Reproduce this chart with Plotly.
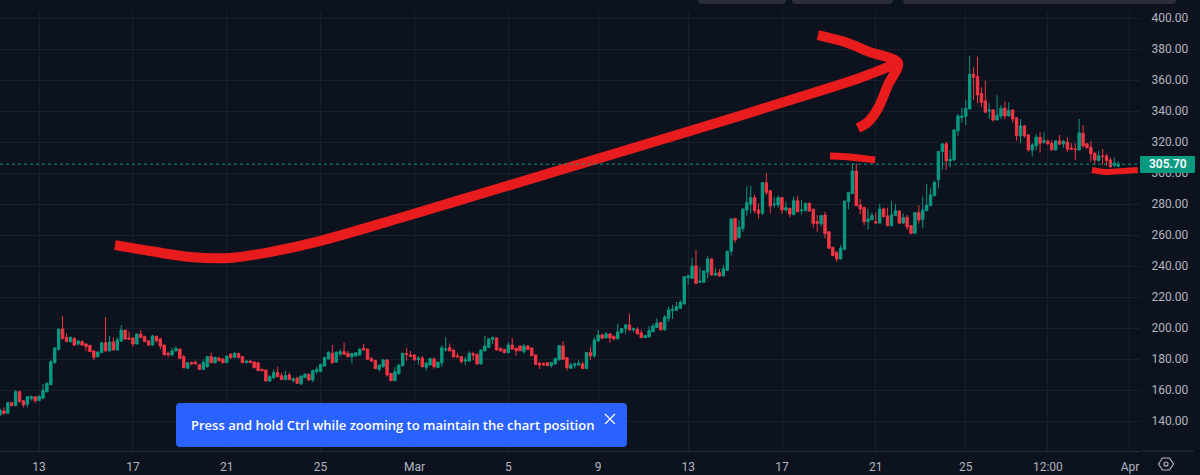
import plotly.graph_objects as go

# 4h candles
opens = [
    143.9, 146.5, 145, 151.8, 149.9, 158.9, 153, 150.8, 154.4, 155.7,
    153.1, 154.8, 158.9, 163.4, 177.6, 186.2, 199.3, 194, 191.2, 193.3,
    189.7, 191.2, 189.7, 188.8, 185.2, 181.5, 184.1, 190.5, 185.2, 191,
    185.8, 191.6, 198.5, 193.5, 193.5, 189.7, 196.1, 194.4, 191.6, 189,
    194.6, 192.9, 189, 183.6, 182.6, 185.2, 186.4, 181.5, 174, 177.8,
    178, 176.3, 173.3, 175, 181.5, 177.6, 180.6, 180, 177.6, 183.2,
    181, 183.6, 181.5, 177.8, 178.7, 178, 177.6, 173.3, 172.9, 165.8,
    168, 171.2, 169.2, 166.7, 169.7, 166.2, 167.7, 163.9, 168, 170.1,
    166.4, 171.8, 171.8, 175.5, 180, 183.6, 178, 183.2, 184.7, 183.6,
    181.5, 182, 182.6, 186.9, 186.4, 180.4, 179.1, 173.3, 175, 179.4,
    170.7, 166, 170.7, 175.7, 183.6, 182.6, 182.6, 179.6, 180.6, 174.6,
    176.1, 180, 174.6, 177.6, 185.8, 187.3, 185.8, 182.1, 181.5, 178.7,
    178.7, 183.4, 183, 176.8, 185.2, 187.5, 192.7, 193.5, 186.9, 186.2,
    184.1, 189, 186.9, 188.4, 184.7, 188.4, 187.1, 182.6, 177.2, 177.2,
    177.6, 175.7, 176.8, 179.4, 188.4, 180.9, 174, 176, 176.2, 176.8,
    173.8, 184.1, 182, 191.6, 195.5, 193.6, 196.2, 194.5, 193, 197,
    199.8, 202, 198.8, 199.2, 196.8, 193.8, 194.2, 197.5, 200.3, 203.5,
    198.8, 206.3, 211.2, 211.4, 212.7, 215.5, 232.5, 232, 240, 229.5,
    229.5, 236, 244.5, 234.2, 235.7, 233.6, 237.2, 249.5, 270.7, 258.3,
    264.3, 276.1, 279.8, 284.1, 276.1, 274, 293.8, 288.6, 279.6, 279.4,
    284.1, 276.1, 277.2, 273.3, 282.1, 275.7, 275.7, 280.4, 276.6, 268.6,
    267.1, 272.9, 262.1, 252, 248.6, 244.5, 250.8, 281.5, 286.7, 301.3,
    279.4, 277.8, 268.6, 269.9, 268.6, 267.7, 276.8, 272.3, 266, 272.5,
    275.5, 267.7, 271.4, 266, 261.1, 274.4, 270.1, 275.7, 278.9, 285.4,
    295.5, 313.8, 318.8, 307.8, 308.4, 327.2, 335.8, 336.4, 341.3, 363.7,
    362.2, 351.4, 346.5, 340, 340.7, 334.2, 336.8, 341.8, 336.8, 340.7,
    335.5, 323.9, 330.4, 324.6, 314.9, 317.5, 323, 319.8, 320.5, 319.2,
    314.9, 320.7, 318.8, 320, 316.2, 315.5, 314.9, 325.6, 318.8, 316.6,
    312.8, 308, 311, 311, 308.4, 305, 304.4,
]
highs = [
    148, 148.8, 152.5, 152.2, 160, 159.5, 153.5, 156, 156.5, 156,
    156.8, 163.9, 165, 179.3, 187.5, 199.5, 207.7, 196.5, 194.5, 194,
    192.2, 192, 190, 189.2, 185.5, 185, 191, 207.1, 194.8, 194,
    194, 201.9, 199, 197.8, 194, 196.5, 198.7, 195, 192.2, 195.5,
    195, 193.8, 189.2, 184.7, 187.3, 188, 186.8, 182.6, 178, 178.5,
    178.9, 176.5, 179.8, 182, 184.1, 181.5, 181.2, 180.3, 182.2, 183.6,
    184.7, 184, 182, 179.3, 179.2, 178.5, 177.8, 173.8, 173.2, 169.7,
    173.3, 175, 171.2, 172.5, 171.4, 168.2, 168.6, 169.5, 171, 170.7,
    173, 175, 177, 181.5, 185, 189, 185, 186.2, 190.7, 185.2,
    184, 184.3, 187, 189.7, 186.7, 181, 179.5, 176.5, 180, 179.8,
    171, 175, 176.5, 184.3, 187.3, 185.2, 183, 181.9, 181.9, 178.3,
    180.8, 180.9, 178.5, 189, 194, 190, 186, 184, 181.9, 181.5,
    185, 184.7, 183.6, 186.2, 194.8, 193.5, 194.4, 194, 187.3, 186.5,
    191, 193.5, 187.3, 188.7, 189.7, 189, 187.3, 183, 178, 177.8,
    178, 178, 181, 189, 191.6, 181.3, 177.7, 177.7, 179.4, 178.3,
    184.5, 188, 194, 198.8, 196.6, 197.5, 196.6, 195.5, 202.6, 200,
    202.6, 209.1, 200.3, 200.5, 198.8, 195.5, 201.3, 202.6, 206.3, 204,
    208.4, 213.8, 214.9, 216.8, 218.1, 233.5, 234.4, 245.2, 250.4, 239.2,
    237.2, 246.5, 245, 238.5, 238.1, 240.7, 249.9, 270.7, 271, 269.7,
    277, 291.2, 291.6, 286.2, 280.4, 294, 300, 289, 284.7, 285.4,
    284.5, 281.5, 277.6, 284.7, 285.2, 282.6, 281, 281, 277, 272.9,
    272.9, 275, 262.5, 252.5, 249.7, 253.5, 282.2, 288, 306.5, 306.2,
    283.2, 278.2, 276.8, 274.4, 274.6, 280.2, 277.6, 277.6, 281.9, 280,
    275.9, 274, 272.9, 266.4, 274.8, 279.3, 284.7, 292.9, 290.1, 295,
    314.2, 319.2, 320, 314.9, 328.2, 338, 342.4, 347.1, 375.7, 368.2,
    375.1, 355.3, 359.6, 345, 341, 350.2, 343.9, 346.1, 345.6, 341,
    336, 334.9, 330.8, 325, 319.2, 325.2, 326.3, 326.3, 321.8, 321.4,
    321, 324.6, 321.4, 323.1, 319.2, 319.2, 334.9, 331, 319.2, 320.7,
    313.2, 314.3, 315.5, 312.3, 310, 310, 307.8,
]
lows = [
    143, 143.9, 144.5, 149.5, 149.5, 152, 148.8, 148.8, 153.1, 151.8,
    153, 154, 158.5, 163, 177.2, 185.4, 192.5, 191, 190.5, 188.6,
    188.6, 188.8, 185.2, 184.5, 179.4, 181, 184, 185, 185, 185.6,
    185.6, 191, 192.5, 192.5, 188, 189.5, 193.5, 191, 188.4, 188.8,
    190.5, 186.4, 182.4, 181.1, 182, 185, 180.2, 174, 173.5, 176,
    176.5, 173, 173, 174.5, 177.4, 177, 178.5, 177.4, 177.4, 180,
    180.5, 180.5, 177.4, 177, 177.4, 174, 172.3, 172, 165.5, 165.2,
    166.9, 168.3, 166.4, 166.4, 166.4, 164.9, 164, 163.5, 167.7, 166.2,
    164.9, 170.3, 171.5, 175.2, 179.7, 177, 177.8, 181.5, 182.5, 181,
    177.2, 181.5, 182.2, 185.5, 179.5, 178.2, 173.5, 172, 174.5, 168.6,
    165.8, 165.8, 169.7, 175.3, 178.9, 181.3, 179, 176.3, 174.8, 172.5,
    175.8, 173.8, 174.2, 175, 184.7, 185, 181, 180.6, 177.2, 176.1,
    178.3, 179.4, 176.5, 176.5, 185, 187, 189.7, 185.5, 184.7, 183.8,
    183.8, 186, 182.1, 185, 183.4, 185.9, 182, 176.2, 173.5, 175.8,
    175.4, 174.4, 176.5, 179, 179.5, 172.5, 173.5, 173.8, 175.5, 173.6,
    173.5, 179.4, 180.7, 191.3, 192.7, 193.3, 190.6, 192.1, 192.7, 196.6,
    196.2, 198.5, 197.5, 196, 193.6, 193.5, 194, 197.2, 200, 198.5,
    198.5, 203.9, 205.8, 211, 212.3, 215.2, 227.8, 231.7, 228.5, 229.2,
    229.2, 232.1, 233.9, 233.4, 233.3, 233.3, 236.8, 246.8, 255, 258,
    262.1, 272.5, 274, 274, 270.7, 273, 285.8, 274, 277.6, 277.6,
    273.5, 275, 271.4, 272.5, 274.6, 273.3, 275.4, 275.2, 264.7, 262.1,
    265.4, 257.9, 251, 246.3, 242.8, 244.2, 250.5, 276.6, 286.4, 278.5,
    273.3, 266.4, 263.4, 269.5, 267.4, 267.5, 271.5, 265.7, 265.7, 272.2,
    267, 267.4, 263.2, 260.5, 260.7, 267.5, 264.3, 275.4, 278.6, 285,
    290, 302, 302, 303.7, 308, 324, 332.5, 331, 341, 347.1,
    345, 342.4, 338.8, 334.9, 333.2, 334, 334.7, 334.7, 336.4, 332.5,
    320.9, 319.2, 322.9, 313.8, 310.6, 314.5, 313.2, 318.8, 318.1, 314.5,
    314.6, 318.1, 316.4, 313.8, 314.9, 308.4, 314.5, 316.4, 315.8, 307.4,
    305.2, 307.4, 305.2, 304.6, 303, 303.7, 303.7,
]
closes = [
    147.1, 145, 151.8, 149.9, 158.9, 152.5, 150.3, 155.7, 155.7, 153.1,
    155.9, 159.6, 164.3, 178.3, 187.1, 199.3, 193.3, 191.2, 194, 189,
    191.6, 189, 188, 184.7, 181.1, 184.5, 190.5, 185.2, 190.9, 185.8,
    192.3, 198.7, 192.9, 192.9, 189.7, 196.1, 193.8, 191.2, 189, 194.8,
    191.8, 188.4, 182.6, 182.8, 185.2, 186.7, 180.4, 174.4, 177.6, 176.8,
    176.8, 173.3, 177.8, 181.5, 177.6, 180.9, 178.9, 177.6, 181.9, 180.9,
    183.6, 180.9, 177.6, 178.7, 177.6, 174.4, 172.5, 172.5, 165.8, 168.6,
    171.2, 168.6, 166.7, 169.2, 166.7, 167.1, 164.3, 169, 170.1, 166.4,
    172.5, 173.3, 176.5, 180.9, 184.3, 177.6, 184.3, 184.7, 183, 181.5,
    183.6, 184, 186.4, 185.8, 179.8, 178.7, 173.8, 176, 179.4, 169.7,
    166, 171.8, 176.1, 183.6, 183, 181.7, 179.4, 180.4, 175, 177.2,
    180.2, 175, 178, 187.3, 186.4, 185.2, 181.3, 181.5, 178.3, 179.4,
    183.6, 182.6, 176.8, 185.8, 188.4, 192.9, 193.8, 185.8, 185.2, 184.1,
    189, 186.4, 185.4, 185.4, 188.4, 186.2, 182.1, 176.5, 176.1, 176.1,
    175.7, 177.6, 180.2, 188.6, 179.8, 174.4, 176.2, 176.8, 177.3, 173.8,
    184.1, 182, 192.3, 195.5, 193.4, 196.2, 193.6, 193, 197.5, 199.6,
    202, 198.8, 199.6, 196.2, 193.8, 195.1, 198.3, 201.3, 203.3, 198.8,
    207.1, 211.7, 212.1, 213.8, 216.4, 233.1, 233.6, 240, 228.8, 230.1,
    236.8, 244.5, 234.2, 235.3, 233.6, 238.1, 249.5, 270.3, 256.8, 265,
    276.8, 280.9, 284.1, 275.7, 274, 293.8, 287.5, 278.7, 280, 284.1,
    276.1, 277.6, 273.5, 282.1, 275, 276.1, 280.4, 275.5, 267.5, 267.5,
    272.5, 260.9, 251.4, 246.7, 244.5, 251.4, 281.9, 287.3, 301.3, 278.9,
    276.8, 268.6, 270.3, 272.5, 267.7, 276.8, 271.8, 266, 272.9, 275.7,
    267.7, 271.2, 265.2, 261.1, 274.4, 269.7, 276.1, 279.3, 285.8, 294,
    313.8, 318.8, 307.8, 308.9, 327.8, 336.8, 336.8, 341.8, 363.7, 361.8,
    350.4, 345.6, 339.2, 340.7, 334.2, 337.3, 341.8, 336.8, 340.3, 334.9,
    323.9, 330.4, 323.9, 314.9, 318.1, 323, 319.2, 320.9, 318.8, 314.9,
    320.7, 318.6, 320.3, 315.3, 315.3, 315.1, 325.9, 317.5, 316.4, 312.3,
    308.4, 311, 310.6, 308, 304.1, 306.3, 305.7,
]
candle_index = list(range(len(closes)))

time_ticks = [10, 34, 58, 82, 106, 130, 153, 176, 200, 224, 247, 268, 289]
time_labels = ["13", "17", "21", "25", "Mar", "5", "9", "13", "17", "21", "25", "12:00", "Apr"]
price_ticks = list(range(140, 401, 20))
price_labels = [f"{p}.00" for p in price_ticks]

# hand drawn red marks, in candle index / price
curve_x = [29.4, 38.4, 48.6, 58.8, 69, 81.8, 102.3, 127.9, 153.5, 179, 204.6, 219.9, 229.7]
curve_y = [253.5, 249.7, 245.8, 245.2, 249, 256.1, 271, 290.3, 309.7, 329, 349, 361.3, 371]
head_x = [209.2, 216.1, 222.5, 229.7, 227.1, 224.6, 222, 219.4]
head_y = [389, 384.5, 378, 371, 356.8, 341.9, 332.9, 329]
top_dash_x = [212.3, 217.4, 223.8]
top_dash_y = [311, 310.3, 308.4]
low_dash_x = [279.3, 282.6, 287.7, 291]
low_dash_y = [301.9, 300.6, 301.3, 301.9]

BG = "#0c121e"
GRID = "#1a1f2b"
TEXT = "#b2b5be"
UP = "#089981"
DOWN = "#f23645"
RED = "#e81c1c"

W, H = 1200, 475
L, T, R, B = 0, 12, 1140, 451


def px(x):
    return (x - L) / (R - L)


def py(y):
    return (B - y) / (B - T)


def rounded(x0, y0, x1, y1, r):
    return (
        f"M {px(x0 + r)} {py(y0)} L {px(x1 - r)} {py(y0)} "
        f"Q {px(x1)} {py(y0)} {px(x1)} {py(y0 + r)} L {px(x1)} {py(y1 - r)} "
        f"Q {px(x1)} {py(y1)} {px(x1 - r)} {py(y1)} L {px(x0 + r)} {py(y1)} "
        f"Q {px(x0)} {py(y1)} {px(x0)} {py(y1 - r)} L {px(x0)} {py(y0 + r)} "
        f"Q {px(x0)} {py(y0)} {px(x0 + r)} {py(y0)} Z"
    )


def paper_shape(path, fill="rgba(0,0,0,0)", line=None, width=1):
    return dict(type="path", xref="paper", yref="paper", path=path, fillcolor=fill,
                line=dict(color=line or fill, width=width if line else 0), layer="above")


fig = go.Figure()
fig.add_trace(go.Candlestick(
    x=candle_index, open=opens, high=highs, low=lows, close=closes,
    increasing=dict(line=dict(color=UP, width=1), fillcolor=UP),
    decreasing=dict(line=dict(color=DOWN, width=1), fillcolor=DOWN),
    whiskerwidth=0, hoverinfo="skip", showlegend=False,
))
for xs, ys, w in [(curve_x, curve_y, 10), (head_x, head_y, 10), (top_dash_x, top_dash_y, 7), (low_dash_x, low_dash_y, 6)]:
    fig.add_trace(go.Scatter(
        x=xs, y=ys, mode="lines", line=dict(color=RED, width=w, shape="spline", smoothing=0.8),
        hoverinfo="skip", showlegend=False,
    ))

last_price = closes[-1]
shapes = [
    dict(type="line", xref="paper", x0=0, x1=1, yref="y", y0=last_price, y1=last_price,
         line=dict(color=UP, width=1, dash="dot"), layer="above"),
    # price tag
    paper_shape(rounded(1140, 156, 1195, 173, 1), fill=UP),
    # axis line under the price scale
    paper_shape(f"M {px(1142)} {py(451)} L {px(1194)} {py(451)}", line="#2a2e39"),
    # toolbar buttons cut off at the top
    paper_shape(rounded(698, -8, 786, 4, 4), fill="#2a2e39"),
    paper_shape(rounded(792, -8, 893, 4, 4), fill="#2a2e39"),
    paper_shape(rounded(903, -8, 1176, 4, 4), fill="#2a2e39"),
    # toast
    paper_shape(rounded(176, 403, 627, 447, 4), fill="#2962ff"),
    paper_shape(f"M {px(605)} {py(414)} L {px(615)} {py(424)} M {px(615)} {py(414)} L {px(605)} {py(424)}",
                line="#ffffff", width=1.2),
    # settings icon
    paper_shape(
        f"M {px(1158.5)} {py(464)} L {px(1162.5)} {py(458)} L {px(1169.5)} {py(458)} "
        f"L {px(1173.5)} {py(464)} L {px(1169.5)} {py(470)} L {px(1162.5)} {py(470)} Z",
        line=TEXT, width=1.2),
    dict(type="circle", xref="paper", yref="paper", x0=px(1164), x1=px(1168), y0=py(466), y1=py(462),
         line=dict(color=TEXT, width=1.2), layer="above"),
]

annotations = [
    dict(x=px(1167.5), y=last_price, xref="paper", yref="y", xanchor="center", yanchor="middle",
         text=f"{last_price:.2f}", showarrow=False,
         font=dict(family="Roboto", size=12, color="#ffffff", weight=600)),
    dict(x=px(392), y=py(424.5), xref="paper", yref="paper", xanchor="center", yanchor="middle",
         text="Press and hold Ctrl while zooming to maintain the chart position",
         showarrow=False, font=dict(family="Open Sans", size=13, color="#ffffff", weight=600)),
]

fig.update_layout(
    width=W, height=H, autosize=False,
    margin=dict(l=L, r=W - R, t=T, b=H - B),
    paper_bgcolor=BG, plot_bgcolor=BG,
    font=dict(family="Roboto", size=12, color=TEXT),
    boxgap=0.12,
    shapes=shapes, annotations=annotations,
    xaxis=dict(
        range=[0, (R - L) / 3.91], rangeslider=dict(visible=False),
        tickmode="array", tickvals=time_ticks, ticktext=time_labels,
        showgrid=True, gridcolor=GRID, gridwidth=1, zeroline=False,
        showline=True, linecolor="#2a2e39", linewidth=1,
        ticks="outside", ticklen=5, tickcolor=BG, tickfont=dict(size=12, color=TEXT),
    ),
    yaxis=dict(
        range=[300 - (B - 173) / 1.55, 300 + (173 - T) / 1.55], side="right",
        tickmode="array", tickvals=price_ticks, ticktext=price_labels,
        showgrid=True, gridcolor=GRID, gridwidth=1, zeroline=False, showline=False,
        ticks="outside", ticklen=8, tickcolor=BG, tickfont=dict(size=12, color=TEXT),
    ),
    hovermode=False,
)

# the default page margin would push the figure 8px in
fig.write_html(
    "out.html",
    config={"displayModeBar": False},
    post_script="document.body.style.margin='0';document.body.style.overflow='hidden';",
)
